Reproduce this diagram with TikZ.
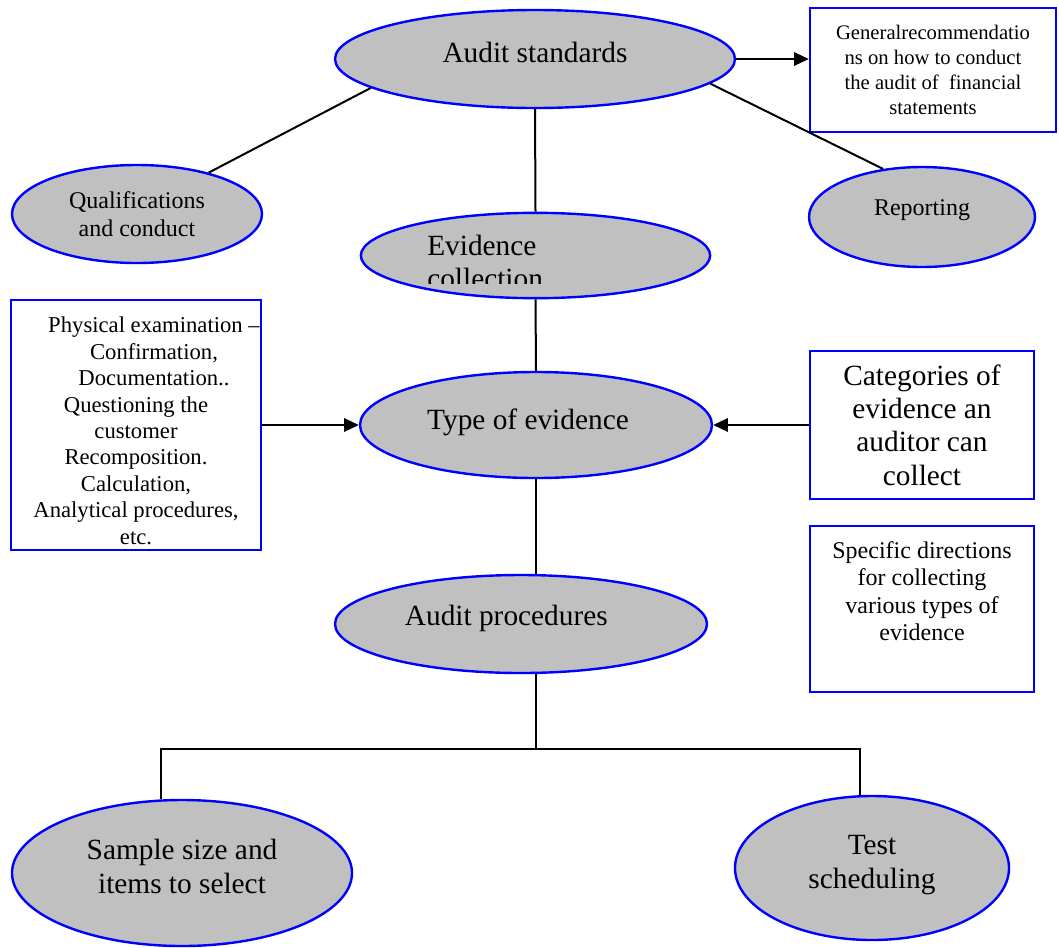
\documentclass[tikz,border=0pt]{standalone}
\usepackage{fontspec}
\setmainfont{Liberation Serif}
\usetikzlibrary{arrows.meta,positioning,shapes.geometric}
\definecolor{silver}{HTML}{C0C0C0}

\begin{document}
\begin{tikzpicture}[x=0.75pt,y=-0.75pt,>={Triangle[length=11pt,width=10pt]},
  oval/.style={ellipse, draw=blue, line width=1.8pt, fill=silver, inner sep=0pt, align=center},
  note/.style={rectangle, draw=blue, line width=1.8pt, fill=white, inner sep=0pt, align=center},
  bigtxt/.style={font=\fontsize{22}{25}\selectfont},
  midtxt/.style={font=\fontsize{18}{20.5}\selectfont},
  smalltxt/.style={font=\fontsize{15.5}{18.8}\selectfont},
  link/.style={line width=1.5pt}]

\useasboundingbox (0,0) rectangle (1059,947);

\node (std) [oval, bigtxt, text depth=10pt, minimum width=300pt, minimum height=73.5pt] at (535,59)
{Audit standards};

\node (qual) [oval, midtxt, minimum width=187.5pt, minimum height=73.5pt] at (137,214)
{Qualifications\\and conduct};

\node (rep) [oval, midtxt, text depth=14pt, minimum width=169.5pt, minimum height=75pt] at (922,217)
{Reporting};

\node (coll) [oval, minimum width=262pt, minimum height=64pt] at (535.5,255.5) {};
\begin{scope}
\clip (361,200) rectangle (712,283);
\node (colltext) [bigtxt, anchor=west, align=left, inner sep=0pt] at (427,262)
{Evidence\\collection};
\end{scope}

\node (type) [oval, bigtxt, text depth=9pt, minimum width=264pt, minimum height=79.5pt] at (536,425)
{Type of evidence\hspace*{12pt}};

\node (proc) [oval, bigtxt, text depth=13pt, minimum width=279pt, minimum height=73.5pt] at (521,624)
{Audit procedures\hspace*{22pt}};

\node (samp) [oval, bigtxt, text depth=10pt, minimum width=255pt, minimum height=109.5pt] at (182,873)
{Sample size and\\items to select};

\node (test) [oval, bigtxt, text depth=9pt, minimum width=205.5pt, minimum height=108pt] at (872,868)
{Test\\scheduling};

\node (gen) [note, smalltxt, minimum width=184.5pt, minimum height=93pt] at (933,70)
{Generalrecommendatio\\ns on how to conduct\\the audit of~ financial\\statements};

\node (methods) [note, font=\fontsize{17}{19.8}\selectfont, minimum width=187.5pt, minimum height=187.5pt] at (136,425)
{\rule{0pt}{20.5pt}\hspace*{27pt}Physical examination --\\\hspace*{27pt}Confirmation,\\\hspace*{27pt}Documentation..\\Questioning the\\customer\\Recomposition.\\Calculation,\\Analytical procedures,\\etc.};

\node (cat) [note, bigtxt, minimum width=168pt, minimum height=111pt] at (922,425)
{Categories of\\evidence an\\auditor can\\collect};

\node (spec) [note, midtxt, minimum width=168pt, minimum height=124.5pt] at (922,609)
{Specific directions\\for collecting\\various types of\\evidence\\\rule{0pt}{26pt}};

\coordinate (fork) at (536,749);
\coordinate (forkL) at (161,749);
\coordinate (forkR) at (860,749);

\draw[link] (std.190) -- (qual.30);
\draw[link] (std.-8) -- (rep.129);
\draw[link,->] (std.east) -- (std.east -| gen.west);
\draw[link] (std.south) -- (coll.north);
\draw[link] (coll.south) -- (type.north);
\draw[link,->] (methods.east) -- (type.west);
\draw[link,->] (cat.west) -- (type.east);
\draw[link] (type.south) -- (type.south |- proc.north);
\draw[link] (proc.south -| fork) -- (fork);
\draw[link] (forkL |- samp.north) -- (forkL) -- (forkR) -- (forkR |- test.north);

\end{tikzpicture}
\end{document}
